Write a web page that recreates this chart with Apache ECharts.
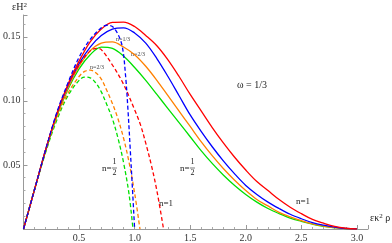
<!DOCTYPE html>
<html><head><meta charset="utf-8">
<script src="https://cdn.jsdelivr.net/npm/echarts@6/dist/echarts.min.js"></script>
<style>html,body{margin:0;padding:0;background:#fff}#c{width:392px;height:243px}</style>
</head><body><div id="c"></div>
<script>
// shared x grid for the solid curves
const xSolid = [0,0.1,0.2,0.3,0.4,0.5,0.6,0.7,0.8,0.9,1.0,1.1,1.2,1.3,1.4,1.5,1.6,1.7,1.8,1.9,2.0,2.1,2.2,2.3,2.4,2.5,2.6,2.7,2.8,2.9,3.0];
const redSolid    = [0,0.031,0.062,0.090,0.113,0.131,0.146,0.156,0.1612,0.1615,0.158,0.151,0.143,0.132,0.119,0.105,0.092,0.079,0.067,0.056,0.046,0.037,0.030,0.023,0.017,0.012,0.0075,0.0045,0.002,0.0006,0];
const blueSolid   = [0,0.031,0.062,0.090,0.112,0.129,0.142,0.151,0.156,0.157,0.153,0.145,0.133,0.119,0.104,0.089,0.076,0.064,0.053,0.043,0.034,0.027,0.021,0.016,0.0115,0.008,0.005,0.003,0.0015,0.0004,0];
const orangeSolid = [0,0.031,0.062,0.089,0.110,0.127,0.139,0.145,0.146,0.142,0.136,0.127,0.116,0.104,0.092,0.080,0.068,0.057,0.047,0.038,0.030,0.023,0.018,0.013,0.0095,0.0065,0.004,0.0023,0.001,0.0003,0];
const greenSolid  = [0,0.031,0.061,0.088,0.109,0.125,0.136,0.142,0.141,0.135,0.126,0.116,0.105,0.094,0.083,0.072,0.061,0.051,0.042,0.034,0.027,0.021,0.016,0.012,0.0085,0.006,0.0038,0.002,0.001,0.0003,0];

// dashed curves
const xBlueDash = [0,0.1,0.2,0.3,0.4,0.5,0.6,0.7,0.75,0.8,0.85,0.89,0.92,0.94,0.96,0.98,1.0];
const blueDash  = [0,0.031,0.062,0.091,0.114,0.134,0.148,0.157,0.159,0.158,0.152,0.142,0.118,0.093,0.063,0.032,0];
const xRedDash  = [0,0.1,0.2,0.3,0.4,0.5,0.6,0.66,0.7,0.8,0.9,1.0,1.05,1.1,1.15,1.2,1.26];
const redDash   = [0,0.031,0.062,0.090,0.112,0.128,0.139,0.141,0.140,0.128,0.113,0.093,0.082,0.067,0.050,0.030,0];
const xOrangeDash = [0,0.1,0.2,0.3,0.4,0.5,0.55,0.6,0.65,0.7,0.75,0.8,0.85,0.9,0.95,1.0,1.048];
const orangeDash  = [0,0.031,0.061,0.087,0.106,0.119,0.123,0.124,0.122,0.117,0.108,0.098,0.086,0.071,0.052,0.028,0];
const xGreenDash = [0,0.1,0.2,0.3,0.4,0.5,0.55,0.6,0.65,0.7,0.75,0.8,0.85,0.9,0.95,0.985];
const greenDash  = [0,0.031,0.060,0.085,0.104,0.116,0.1185,0.118,0.114,0.107,0.097,0.086,0.071,0.052,0.027,0];

const xTicks = [0.5,1.0,1.5,2.0,2.5,3.0];
const yTicks = [0.05,0.10,0.15];

const C = {red:'#ff0000', blue:'#0000ff', orange:'#ff8000', green:'#00e000'};
const pairs = (xs, ys) => xs.map((x,i)=>[x, ys[i]]);
const serif = '"Liberation Serif","DejaVu Serif",serif';

function line(name, xs, ys, color, dashed){
  return {type:'line', name, data:pairs(xs,ys), showSymbol:false, smooth:0.35,
    lineStyle:{color, width:1.3, type: dashed ? [4,2.5] : 'solid'}, z: dashed?3:2, silent:true};
}

const chart = echarts.init(document.getElementById('c'), null, {renderer:'canvas'});
const axisCommon = {
  axisLine:{show:true, lineStyle:{color:'#999', width:1}},
  axisTick:{show:true, inside:true, length:4, lineStyle:{color:'#999'}},
  minorTick:{show:true, splitNumber:5, length:2, lineStyle:{color:'#aaa'}},
  splitLine:{show:false}
};
function frac(x, y){
  return {type:'group', left:x, top:y, children:[
    {type:'text', x:0, y:2, style:{text:'n=', font:'9px '+serif, fill:'#222'}},
    {type:'text', x:10.5, y:-4, style:{text:'1', font:'8px '+serif, fill:'#222'}},
    {type:'line', shape:{x1:10, y1:6, x2:15, y2:6}, style:{stroke:'#222', lineWidth:0.6}},
    {type:'text', x:10.5, y:7, style:{text:'2', font:'8px '+serif, fill:'#222'}}
  ]};
}
chart.setOption({
  animation:false,
  grid:{left:21, right:24, top:15, bottom:13, containLabel:false},
  xAxis:Object.assign({type:'value', min:0, max:3.1, interval:0.5,
    axisLabel:{margin:4, fontFamily:serif, fontSize:10, color:'#333',
      formatter:v => xTicks.some(t=>Math.abs(t-v)<1e-9) ? v.toFixed(1) : ''}}, axisCommon),
  yAxis:Object.assign({type:'value', min:0, max:0.167, interval:0.05,
    axisLabel:{margin:3, fontFamily:serif, fontSize:10, color:'#333',
      formatter:v => yTicks.some(t=>Math.abs(t-v)<1e-9) ? v.toFixed(2) : ''}}, axisCommon),
  series:[
    line('green', xSolid, greenSolid, C.green, false),
    line('orange', xSolid, orangeSolid, C.orange, false),
    line('blue', xSolid, blueSolid, C.blue, false),
    line('red', xSolid, redSolid, C.red, false),
    line('greenD', xGreenDash, greenDash, C.green, true),
    line('orangeD', xOrangeDash, orangeDash, C.orange, true),
    line('redD', xRedDash, redDash, C.red, true),
    line('blueD', xBlueDash, blueDash, C.blue, true)
  ],
  graphic:[
    {type:'text', left:12, top:2, style:{text:'{a|εH}{s|2}', font:'10px '+serif, fill:'#222',
      rich:{a:{fontSize:10, fontFamily:serif, color:'#222'}, s:{fontSize:7, fontFamily:serif, color:'#222', verticalAlign:'top'}}}},
    {type:'text', left:370, top:213, style:{text:'{a|εκ}{s|2}{a| ρ}', font:'10px '+serif, fill:'#222',
      rich:{a:{fontSize:10, fontFamily:serif, color:'#222'}, s:{fontSize:7, fontFamily:serif, color:'#222', verticalAlign:'top'}}}},
    {type:'text', left:237, top:80, style:{text:'ω = 1/3', font:'10px '+serif, fill:'#222'}},
    {type:'text', left:116, top:36, style:{text:'n=1/3', font:'6px '+serif, fill:'#444'}},
    {type:'text', left:131, top:51, style:{text:'n=2/3', font:'6px '+serif, fill:'#444'}},
    {type:'text', left:90, top:64, style:{text:'n=2/3', font:'6px '+serif, fill:'#444'}},
    frac(102, 158),
    frac(180, 158),
    {type:'text', left:159, top:199, style:{text:'n=1', font:'9px '+serif, fill:'#222'}},
    {type:'text', left:296, top:197, style:{text:'n=1', font:'9px '+serif, fill:'#222'}}
  ]
});
</script></body></html>
